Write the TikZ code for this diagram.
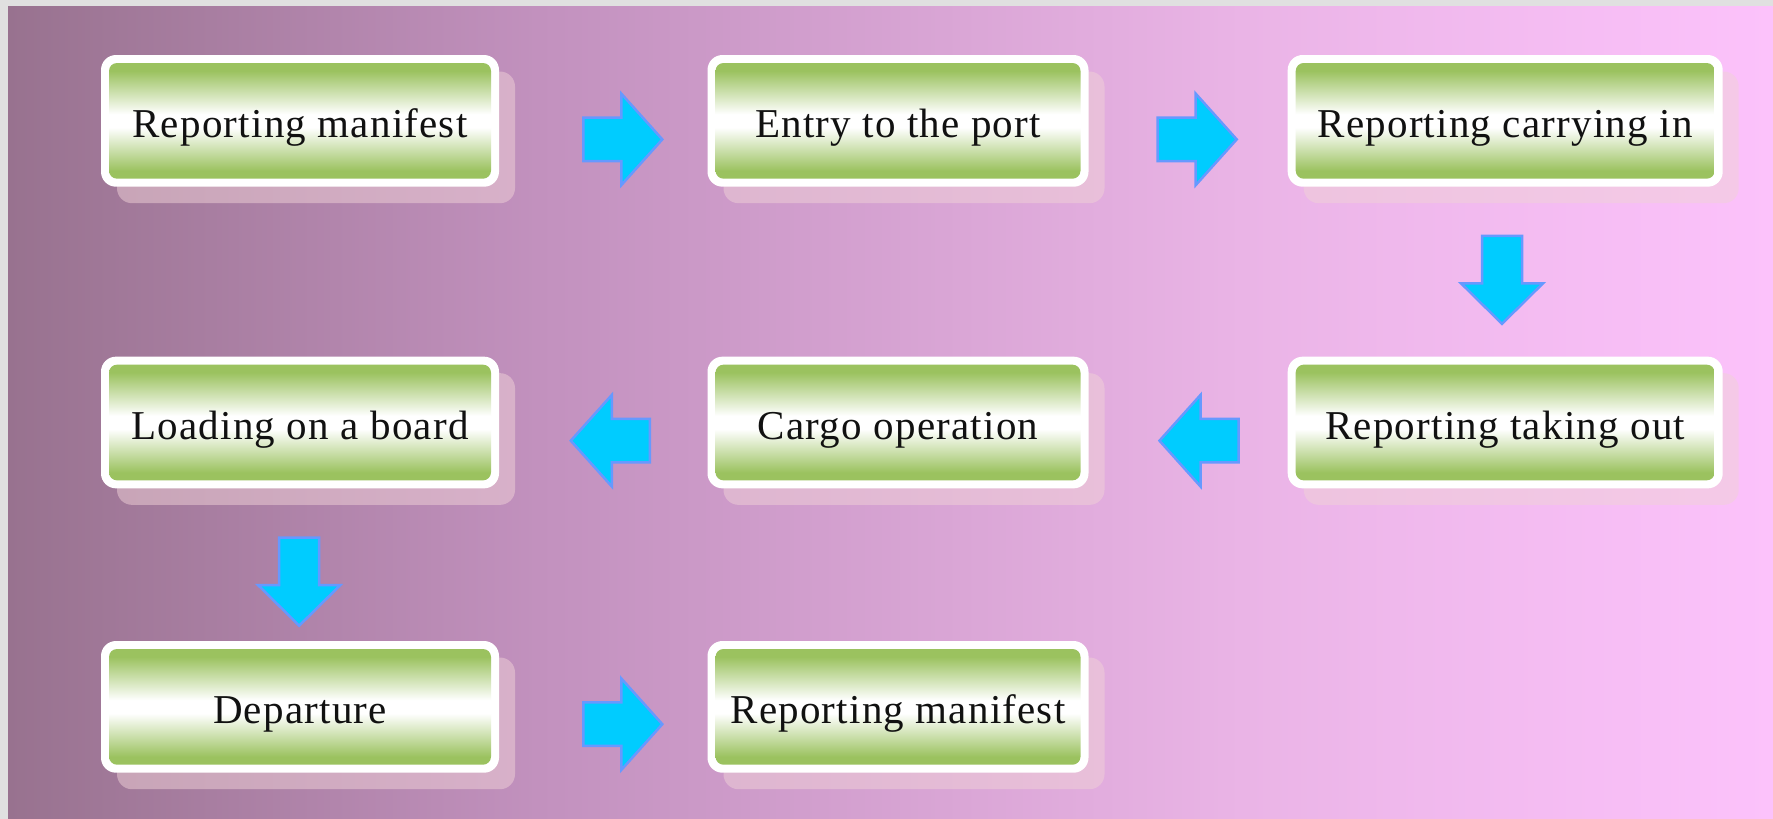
\documentclass[tikz,border=0pt]{standalone}
\usepackage{fontspec}
\setmainfont{Liberation Serif}[LetterSpace=3]
\usetikzlibrary{shadows}

\definecolor{pagegray}{RGB}{224,224,224}
\definecolor{bgA}{RGB}{152,114,143}
\definecolor{bgB}{RGB}{194,145,190}
\definecolor{bgC}{RGB}{234,180,230}
\definecolor{bgD}{RGB}{252,194,251}
\definecolor{boxgreen}{RGB}{155,194,95}
\definecolor{shadowpink}{RGB}{240,210,215}
\definecolor{arrowfill}{RGB}{0,204,255}
\definecolor{arrowline}{RGB}{102,153,255}
\definecolor{textblack}{RGB}{17,17,17}

% page background: purple-grey on the left to pink on the right
\pgfdeclarehorizontalshading{bgshade}{100bp}{%
  color(0bp)=(bgA); color(25bp)=(bgA); color(40bp)=(bgB);
  color(60bp)=(bgC); color(75bp)=(bgD); color(100bp)=(bgD)}
% green band at top and bottom of each step box, white in the middle
\pgfdeclareverticalshading{greenband}{100bp}{%
  color(0bp)=(boxgreen); color(25bp)=(boxgreen); color(31bp)=(boxgreen);
  color(47.5bp)=(white); color(52.5bp)=(white); color(69bp)=(boxgreen);
  color(75bp)=(boxgreen); color(100bp)=(boxgreen)}

\begin{document}
\begin{tikzpicture}[x=1pt,y=-1pt,
  flowbox/.style={rectangle, rounded corners=15pt, fill=white,
    minimum height=131.7pt, inner sep=0pt,
    text height=40pt, text depth=7pt,
    font=\fontsize{41}{48}\selectfont, text=textblack,
    drop shadow={shadow xshift=16pt, shadow yshift=-16.5pt,
      fill=shadowpink, opacity=0.5},
    path picture={\shade[shading=greenband, rounded corners=8pt]
      ([shift={(8,8)}]path picture bounding box.north west) rectangle
      ([shift={(-8,-8)}]path picture bounding box.south east);}},
  arrowstyle/.style={fill=arrowfill, draw=arrowline, line width=2.5pt,
    line join=miter},
  pics/blockarrow/.style args={#1/#2/#3/#4}{code={
    \draw[arrowstyle] ({-#1/2},{-#3/2}) -- ({#1/2-#4},{-#3/2})
      -- ({#1/2-#4},{-#2/2}) -- ({#1/2},0) -- ({#1/2-#4},{#2/2})
      -- ({#1/2-#4},{#3/2}) -- ({-#1/2},{#3/2}) -- cycle;}}
]
\useasboundingbox (0,0) rectangle (1773,819);
\fill[pagegray] (0,0) rectangle (1773,819);
\shade[shading=bgshade] (8,6) rectangle (1773,819);

% process steps
\node[flowbox, minimum width=398pt] (b1) at (300,120.85)   {Reporting manifest};
\node[flowbox, minimum width=381pt] (b2) at (898,120.85)   {Entry to the port};
\node[flowbox, minimum width=435pt] (b3) at (1505.2,120.85){Reporting carrying in};
\node[flowbox, minimum width=435pt] (b4) at (1505.2,422.5) {Reporting taking out};
\node[flowbox, minimum width=381pt] (b5) at (898,422.5)    {Cargo operation};
\node[flowbox, minimum width=398pt] (b6) at (300,422.5)    {Loading on a board};
\node[flowbox, minimum width=398pt] (b7) at (300,706.85)   {Departure};
\node[flowbox, minimum width=381pt] (b8) at (898,706.85)   {Reporting manifest};

% block arrows between the steps
\pic (a1) at (622.8,139.4) {blockarrow=79/91.5/43.5/41};
\pic (a2) at (1197.2,139.4) {blockarrow=79/91.5/43.5/41};
\pic[rotate=-90] (a3) at (1502,279.8) {blockarrow=88/82/40/40.5};
\pic[rotate=180] (a4) at (1199,440.7) {blockarrow=79/91.5/43.5/41};
\pic[rotate=180] (a5) at (610.3,440.7) {blockarrow=79/91.5/43.5/41};
\pic[rotate=-90] (a6) at (299.2,581.7) {blockarrow=88/82/40/40.5};
\pic (a7) at (622.8,724.2) {blockarrow=79/91.5/43.5/41};
\end{tikzpicture}
\end{document}
